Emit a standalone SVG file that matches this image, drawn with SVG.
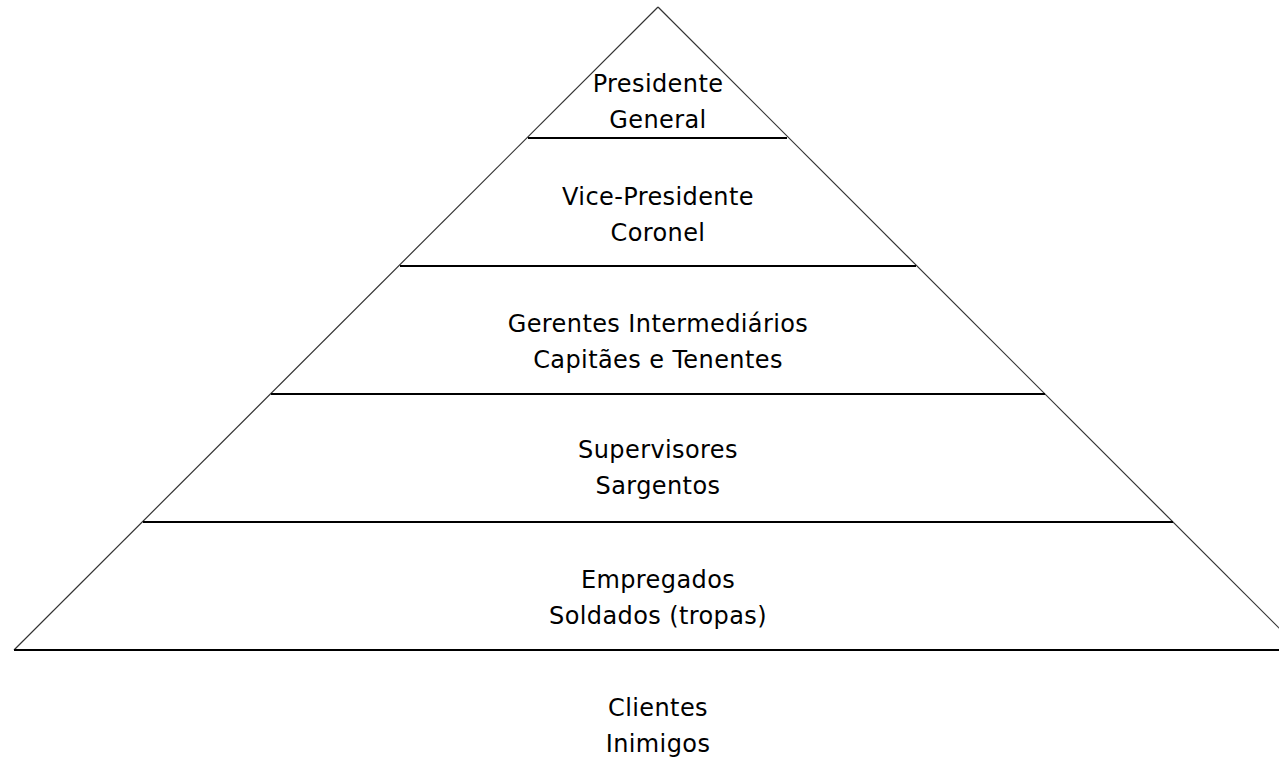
<svg xmlns="http://www.w3.org/2000/svg" width="1279" height="757" viewBox="0 0 1279 757">
<style>
.t{font-family:"DejaVu Sans","Liberation Sans",sans-serif;font-size:24px;fill:#000;text-anchor:middle;letter-spacing:0.4px}
.d{stroke:#333;stroke-width:1.2;fill:none}
.h{stroke:#000;stroke-width:2;fill:none}
</style>
<rect width="1279" height="757" fill="#fff"/>
<g id="connectors">
<line class="d" x1="14" y1="650" x2="658" y2="7"/>
<line class="d" x1="658" y1="7" x2="1301" y2="650"/>
</g>
<g id="level1">
<line class="h" x1="528" y1="138" x2="787" y2="138"/>
<text class="t" x="658" y="92">Presidente</text>
<text class="t" x="658" y="128">General</text>
</g>
<g id="level2">
<line class="h" x1="400" y1="266" x2="916" y2="266"/>
<text class="t" x="658" y="205">Vice-Presidente</text>
<text class="t" x="658" y="241">Coronel</text>
</g>
<g id="level3">
<line class="h" x1="271" y1="394" x2="1045" y2="394"/>
<text class="t" x="658" y="332">Gerentes Intermediários</text>
<text class="t" x="658" y="368">Capitães e Tenentes</text>
</g>
<g id="level4">
<line class="h" x1="143" y1="522" x2="1173" y2="522"/>
<text class="t" x="658" y="458">Supervisores</text>
<text class="t" x="658" y="494">Sargentos</text>
</g>
<g id="level5">
<line class="h" x1="14" y1="650" x2="1279" y2="650"/>
<text class="t" x="658" y="588">Empregados</text>
<text class="t" x="658" y="624">Soldados (tropas)</text>
</g>
<g id="base">
<text class="t" x="658" y="716">Clientes</text>
<text class="t" x="658" y="752">Inimigos</text>
</g>
</svg>
